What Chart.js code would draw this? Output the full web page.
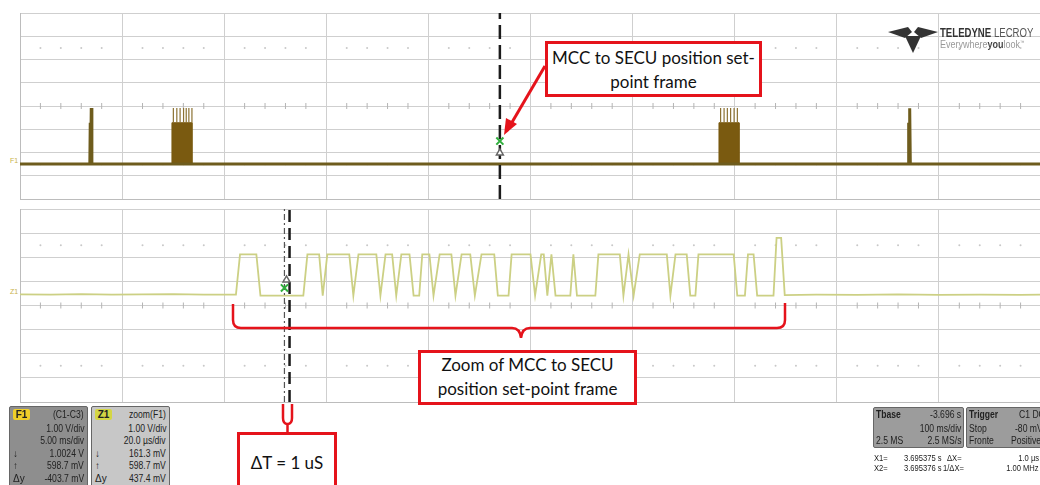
<!DOCTYPE html>
<html>
<head>
<meta charset="utf-8">
<script src="https://cdn.jsdelivr.net/npm/chart.js@4.4.0/dist/chart.umd.min.js"></script>
<style>
body{margin:0;width:1040px;height:485px;overflow:hidden;background:#fff;position:relative;font-family:"Liberation Sans",Arial,sans-serif}
canvas{position:absolute}
#main{left:19px;top:12px}
#zoom{left:19px;top:208px}
#marks{position:absolute;left:0;top:0}
.note{position:absolute;border:3px solid #e5131b;background:#fff;box-sizing:border-box;font-family:Lato,"Open Sans",sans-serif;font-size:17px;color:#111;text-align:center;line-height:24px}
.panel{position:absolute;box-sizing:border-box;border:1px solid #666;border-radius:2px;font-family:"Liberation Sans",Arial,sans-serif;font-size:10px;color:#222;overflow:hidden}
.panel span{position:absolute;height:11px;line-height:11px;white-space:nowrap}
.nr{transform:scaleX(0.86);transform-origin:right center}
.nl{transform:scaleX(0.86);transform-origin:left center}
.tag{left:3px;top:2px;width:17px;height:12px;border-radius:2px;font-weight:bold;text-align:center;color:#222}
.rd{position:absolute;font-family:"Liberation Sans",Arial,sans-serif;font-size:9.5px;color:#222;white-space:nowrap;transform:scaleX(0.8);transform-origin:left center}
.rr{transform-origin:right center}
.side{position:absolute;font-size:7px;color:#c9b24a}
</style>
</head>
<body>
<canvas id="main" width="1023" height="188"></canvas>
<canvas id="zoom" width="1023" height="195"></canvas>

<span class="side" style="left:10px;top:157px">F1</span>
<span class="side" style="left:10px;top:288px">Z1</span>

<!-- logo -->
<svg style="position:absolute;left:888px;top:27px" width="50" height="27">
  <polygon points="0,5 20,0 24,5 17,11" fill="#333"/>
  <polygon points="26,5 30,0 50,5 33,11" fill="#333"/>
  <polygon points="17,9 33,9 25,26" fill="#333"/>
</svg>
<div class="rd" style="left:940px;top:26px;font-size:12px;color:#333;transform:scaleX(0.8)"><b>TELEDYNE</b> <span style="color:#555">LECROY</span></div>
<div class="rd" style="left:940px;top:39px;font-size:10px;color:#999;transform:scaleX(0.9)">Everywhere<b style="color:#444">you</b>look<sup style="font-size:5px">™</sup></div>

<!-- annotations -->
<svg id="marks" width="1040" height="485">
  <g stroke="#e5131b" stroke-width="3" fill="none">
    <line x1="545" y1="66" x2="511" y2="124"/>
    <path d="M233,304 L233,320 Q233,328 241,328 L512,328 Q520,328 521,338 Q522,328 530,328 L777,328 Q785,328 785,320 L785,303" stroke-width="2.5"/>
    <path d="M283,404 L283,418 Q283,424 287.5,424 Q292,424 292,418 L292,404" stroke-width="2.5"/>
    <line x1="287.5" y1="424" x2="287.5" y2="432" stroke-width="2.5"/>
  </g>
  <polygon points="504,135 506,118 517,124" fill="#e5131b"/>
</svg>

<div class="note" style="left:545px;top:41px;width:217px;height:56px;padding-top:2px">MCC to SECU position set-<br>point frame</div>
<div class="note" style="left:418px;top:350px;width:219px;height:55px">Zoom of MCC to SECU<br>position set-point frame</div>
<div class="note" style="left:237px;top:432px;width:100px;height:62px;padding-top:16px">ΔT = 1 uS</div>

<!-- readout panels -->
<div class="panel" style="left:9px;top:406px;width:79px;height:85px;background:#8e8e8e">
  <span class="tag" style="background:#f0cf2a">F1</span>
  <span class="nr" style="right:3px;top:2px">(C1-C3)</span>
  <span class="nr" style="right:3px;top:16px">1.00 V/div</span>
  <span class="nr" style="right:3px;top:28px">5.00 ms/div</span>
  <span style="left:3px;top:41px">↓</span><span class="nr" style="right:3px;top:41px">1.0024 V</span>
  <span style="left:3px;top:53px">↑</span><span class="nr" style="right:3px;top:53px">598.7 mV</span>
  <span style="left:3px;top:66px">Δy</span><span class="nr" style="right:3px;top:66px">-403.7 mV</span>
</div>
<div class="panel" style="left:91px;top:406px;width:79px;height:85px;background:#c7c7c7">
  <span class="tag" style="background:#d4d644">Z1</span>
  <span class="nr" style="right:3px;top:2px">zoom(F1)</span>
  <span class="nr" style="right:3px;top:16px">1.00 V/div</span>
  <span class="nr" style="right:3px;top:28px">20.0 µs/div</span>
  <span style="left:3px;top:41px">↓</span><span class="nr" style="right:3px;top:41px">161.3 mV</span>
  <span style="left:3px;top:53px">↑</span><span class="nr" style="right:3px;top:53px">598.7 mV</span>
  <span style="left:3px;top:66px">Δy</span><span class="nr" style="right:3px;top:66px">437.4 mV</span>
</div>
<div class="panel" style="left:873px;top:407px;width:91px;height:41px;background:#9c9c9c">
  <span class="nl" style="left:2px;top:1px;font-weight:bold">Tbase</span>
  <span class="nr" style="right:2px;top:1px">-3.696 s</span>
  <span class="nr" style="right:2px;top:15px">100 ms/div</span>
  <span class="nl" style="left:2px;top:27px">2.5 MS</span>
  <span class="nr" style="right:2px;top:27px">2.5 MS/s</span>
</div>
<div class="panel" style="left:966px;top:407px;width:90px;height:41px;background:#9c9c9c">
  <span class="nl" style="left:2px;top:1px;font-weight:bold">Trigger</span>
  <span class="nl" style="left:52px;top:1px">C1 DC</span>
  <span class="nl" style="left:2px;top:15px">Stop</span>
  <span class="nl" style="left:48px;top:15px">-80 mV</span>
  <span class="nl" style="left:2px;top:27px">Fronte</span>
  <span class="nl" style="left:44px;top:27px">Positive</span>
</div>
<div class="rd" style="left:874px;top:452px">X1=</div>
<div class="rd" style="left:904px;top:452px">3.695375 s</div>
<div class="rd" style="left:947px;top:452px">ΔX=</div>
<div class="rd rr" style="right:1px;top:452px">1.0 µs</div>
<div class="rd" style="left:874px;top:462px">X2=</div>
<div class="rd" style="left:904px;top:462px">3.695376 s</div>
<div class="rd" style="left:943px;top:462px">1/ΔX=</div>
<div class="rd rr" style="right:1px;top:462px">1.00 MHz</div>

<script>
// F1 trace, 5 ms/div (time in ms, level in divisions)
const mainTime = [0, 3.42, 3.44, 3.46, 3.49, 3.52, 43.50, 43.52, 43.54, 43.57, 43.60, 50];
const mainVolt = [-2.49, -2.49, -0.72, -2.49, -0.09, -2.49, -2.49, -0.72, -2.49, -0.10, -2.49, -2.49];

// the two dense bursts
const burst1Time = [7.44, 7.44, 8.42, 8.42];
const burst2Time = [34.23, 34.23, 35.21, 35.21];
const burstVolt = [-2.49, -0.72, -0.72, -2.49];
const burst1Spikes = [7.51, 7.68, 7.84, 8.01, 8.14, 8.27, 8.42];
const burst2Spikes = [34.31, 34.48, 34.64, 34.80, 34.97, 35.13];
const spikeTop = -0.09;

// Z1 trace, 20 us/div (time in us)
const zoomTime = [0, 6, 12, 18, 24, 30, 36, 42.3, 43.1, 46.3, 47.1, 55.5, 56.3, 58.6, 59.3, 60.2,
  64.5, 65.3, 66.3, 69.8, 70.6, 71.6, 72.9, 73.7, 74.7, 76.3, 77.1, 78.2, 78.8, 80.2, 81.0, 82.2,
  84.5, 85.3, 86.5, 88.2, 89.1, 90.4, 92.9, 93.6, 95.7, 96.3, 100.0, 100.9, 102.1, 102.6, 103.3,
  104.1, 104.9, 107.8, 108.4, 109.1, 112.7, 113.3, 117.5, 118.2, 119.2, 120.2, 121.4, 126.7, 127.4,
  128.4, 130.6, 131.3, 132.3, 132.9, 139.8, 140.5, 142.0, 142.6, 143.7, 144.4, 147.6, 148.2, 149.1,
  149.8, 156, 164, 172, 180, 188, 196, 200];
const zoomVolt = [0.46, 0.45, 0.47, 0.45, 0.46, 0.47, 0.45, 0.45, 2.12, 2.12, 0.41, 0.41, 2.12, 2.12, 0.41, 2.12,
  2.12, 0.41, 2.12, 2.12, 0.41, 2.12, 2.12, 0.41, 2.12, 2.12, 0.41, 0.41, 2.12, 2.12, 0.41, 2.12,
  2.12, 0.41, 2.12, 2.12, 0.41, 2.12, 2.12, 0.41, 0.41, 2.12, 2.12, 0.41, 2.12, 2.12, 0.41,
  2.12, 0.41, 0.41, 2.12, 0.41, 0.41, 2.12, 2.12, 0.41, 2.12, 0.41, 2.12, 2.12, 0.41,
  2.12, 2.12, 0.41, 0.41, 2.12, 2.12, 0.41, 0.41, 2.12, 2.12, 0.41, 0.41, 2.80, 2.80,
  0.43, 0.45, 0.44, 0.46, 0.44, 0.45, 0.44, 0.45];

// cursors and markers
const mainCursor = 23.5;
const mainMarkX = [-1.51];
const mainMarkArrow = [-2.02];
const zoomCursor1 = 51.8;
const zoomCursor2 = 52.8;
const zoomMarkX = [0.73];
const zoomMarkArrow = [1.06];

const pts = (xs, ys) => xs.map((x, i) => ({ x, y: ys[i] }));

function spikeLines(xs) {
  const out = [];
  xs.forEach(x => { out.push({ x, y: -0.72 }, { x, y: spikeTop }, { x, y: null }); });
  return out;
}

// small scope graticule marks: ticks on the centre line, dots at +/-2.5 div
function graticule(xMax) {
  const ticks = [], dots = [];
  for (let i = 1; i < 50; i++) {
    if (i % 5 === 0) continue;
    const x = i * xMax / 50;
    ticks.push({ x, y: 0 });
    dots.push({ x, y: 2.5 }, { x, y: -2.5 });
  }
  return [
    { data: ticks, showLine: false, pointStyle: 'line', rotation: 90, pointRadius: 3, borderColor: '#b4b4b4', borderWidth: 1, order: 9 },
    { data: dots, showLine: false, pointStyle: 'circle', pointRadius: 1, backgroundColor: '#c8c8c8', borderWidth: 0, order: 9 }
  ];
}

function scales(xMax, step) {
  return {
    x: { type: 'linear', min: 0, max: xMax, ticks: { display: false, stepSize: step },
         grid: { color: '#cfcfcf', drawTicks: false }, border: { color: '#bcbcbc' } },
    y: { type: 'linear', min: -4, max: 4, ticks: { display: false, stepSize: 1 },
         grid: { color: '#cfcfcf', drawTicks: false }, border: { color: '#bcbcbc' } }
  };
}

const common = {
  responsive: false,
  animation: false,
  devicePixelRatio: 1,
  layout: { padding: 1, autoPadding: false },
  elements: { point: { radius: 0 }, line: { tension: 0 } },
  plugins: { legend: { display: false }, tooltip: { enabled: false } }
};

new Chart(document.getElementById('main'), {
  type: 'line',
  data: {
    datasets: [
      { data: pts([mainCursor], mainMarkX), showLine: false, pointStyle: 'crossRot', pointRadius: 5, borderColor: '#2fae3c', borderWidth: 2, order: 0 },
      { data: pts([mainCursor], mainMarkArrow), showLine: false, pointStyle: 'triangle', pointRadius: 4, borderColor: '#666', backgroundColor: '#fff', borderWidth: 1.5, order: 1 },
      { data: [{ x: mainCursor, y: -4 }, { x: mainCursor, y: 4 }], borderColor: '#1b1b1b', borderWidth: 2.5, borderDash: [14, 6], order: 2 },
      { data: pts(mainTime, mainVolt), borderColor: '#6e5c1d', borderWidth: 3, order: 3 },
      { data: spikeLines(burst1Spikes.concat(burst2Spikes)), borderColor: '#8c7233', borderWidth: 1.2, order: 3 },
      { data: pts(burst1Time, burstVolt), borderColor: '#7a5a10', backgroundColor: '#7a5a10', borderWidth: 1, fill: { value: -2.49 }, order: 4 },
      { data: pts(burst2Time, burstVolt), borderColor: '#7a5a10', backgroundColor: '#7a5a10', borderWidth: 1, fill: { value: -2.49 }, order: 4 },
      ...graticule(50)
    ]
  },
  options: { ...common, scales: scales(50, 5) }
});

new Chart(document.getElementById('zoom'), {
  type: 'line',
  data: {
    datasets: [
      { data: pts([zoomCursor1], zoomMarkX), showLine: false, pointStyle: 'crossRot', pointRadius: 5, borderColor: '#2fae3c', borderWidth: 2, order: 0 },
      { data: pts([zoomCursor1 + 0.4], zoomMarkArrow), showLine: false, pointStyle: 'triangle', pointRadius: 4, borderColor: '#666', backgroundColor: '#fff', borderWidth: 1.5, order: 1 },
      { data: [{ x: zoomCursor2, y: -4 }, { x: zoomCursor2, y: 4 }], borderColor: '#1b1b1b', borderWidth: 2.5, borderDash: [12, 6], order: 2 },
      { data: [{ x: zoomCursor1, y: -4 }, { x: zoomCursor1, y: 4 }], borderColor: '#555', borderWidth: 1.2, borderDash: [6, 3, 2, 3], order: 2 },
      { data: pts(zoomTime, zoomVolt), borderColor: '#ccd084', borderWidth: 1.8, order: 3 },
      ...graticule(200)
    ]
  },
  options: { ...common, scales: scales(200, 20) }
});
</script>
</body>
</html>
